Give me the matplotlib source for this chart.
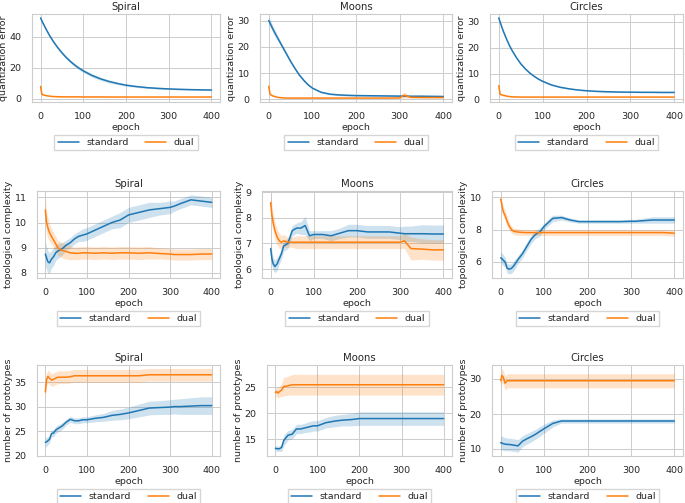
import numpy as np
import matplotlib
matplotlib.use('Agg')
import matplotlib.pyplot as plt
import seaborn as sns

sns.set_theme(style='whitegrid')
plt.rcParams['font.family'] = ['DejaVu Sans']

epochs = [0, 3, 6, 10, 15, 20, 25, 30, 40, 50, 60, 70, 80, 90, 100, 120, 140, 160, 180,
          200, 225, 250, 275, 300, 310, 325, 350, 375, 400]

# quantization error
qe_spiral_std = [52.0, 50.2, 48.5, 46.3, 43.7, 41.2, 39.0, 36.8, 33.0, 29.6, 26.6, 24.0, 21.7, 19.7, 18.0,
                 15.1, 12.9, 11.2, 9.9, 8.8, 7.9, 7.2, 6.75, 6.4, 6.3, 6.15, 5.95, 5.8, 5.7]
qe_spiral_std_sd = [0.6, 0.6, 0.6, 0.6, 0.7, 0.7, 0.7, 0.8, 0.8, 0.9, 0.9, 1.0, 1.0, 1.0, 1.1,
                    1.1, 1.0, 0.9, 0.8, 0.7, 0.6, 0.5, 0.5, 0.4, 0.4, 0.4, 0.4, 0.4, 0.4]
qe_spiral_dual = [8.0, 3.0, 2.6, 2.3, 2.0, 1.8, 1.6, 1.5, 1.4, 1.3, 1.3, 1.3, 1.3, 1.3, 1.25,
                  1.25, 1.25, 1.2, 1.2, 1.2, 1.2, 1.2, 1.2, 1.2, 1.2, 1.2, 1.2, 1.2, 1.2]
qe_spiral_dual_sd = [1.0, 0.5, 0.3, 0.2, 0.2, 0.1, 0.1, 0.1, 0.1, 0.1, 0.1, 0.1, 0.1, 0.1, 0.1,
                     0.1, 0.1, 0.1, 0.1, 0.1, 0.1, 0.1, 0.1, 0.1, 0.1, 0.1, 0.1, 0.1, 0.1]

qe_moons_std = [30.0, 29.0, 28.0, 26.6, 25.0, 23.5, 22.0, 20.5, 17.5, 14.5, 11.8, 9.3, 7.3, 5.6, 4.3,
                2.7, 2.0, 1.7, 1.55, 1.45, 1.4, 1.35, 1.3, 1.25, 1.25, 1.2, 1.2, 1.15, 1.1]
qe_moons_std_sd = [1.5, 1.4, 1.3, 1.2, 1.1, 1.0, 0.9, 0.8, 0.7, 0.6, 0.5, 0.5, 0.4, 0.4, 0.3,
                   0.3, 0.3, 0.3, 0.3, 0.3, 0.3, 0.3, 0.3, 0.3, 0.3, 0.3, 0.3, 0.3, 0.3]
qe_moons_dual = [5.0, 2.0, 1.6, 1.3, 1.0, 0.8, 0.7, 0.6, 0.5, 0.5, 0.5, 0.5, 0.5, 0.5, 0.5,
                 0.5, 0.5, 0.5, 0.5, 0.5, 0.5, 0.5, 0.5, 0.55, 1.6, 0.8, 0.7, 0.7, 0.7]
qe_moons_dual_sd = [2.0, 0.5, 0.3, 0.2, 0.2, 0.1, 0.1, 0.1, 0.1, 0.1, 0.1, 0.1, 0.1, 0.1, 0.1,
                    0.1, 0.1, 0.1, 0.1, 0.1, 0.1, 0.1, 0.1, 0.1, 1.2, 0.3, 0.2, 0.2, 0.2]

qe_circles_std = [31.5, 29.9, 28.4, 26.5, 24.4, 22.4, 20.6, 19.0, 16.2, 13.8, 11.9, 10.3, 9.0, 7.9, 7.0,
                  5.6, 4.7, 4.1, 3.65, 3.35, 3.1, 2.95, 2.85, 2.8, 2.8, 2.75, 2.75, 2.7, 2.7]
qe_circles_std_sd = [0.4, 0.4, 0.4, 0.4, 0.4, 0.4, 0.3, 0.3, 0.3, 0.3, 0.3, 0.3, 0.3, 0.3, 0.3,
                     0.3, 0.2, 0.2, 0.2, 0.2, 0.2, 0.2, 0.2, 0.2, 0.2, 0.2, 0.2, 0.2, 0.2]
qe_circles_dual = [5.3, 2.0, 1.8, 1.6, 1.4, 1.2, 1.1, 1.0, 0.95, 0.9, 0.9, 0.9, 0.9, 0.9, 0.9,
                   0.9, 0.9, 0.9, 0.9, 0.9, 0.9, 0.9, 0.9, 0.9, 0.9, 0.9, 0.9, 0.9, 0.9]
qe_circles_dual_sd = [0.6, 0.3, 0.2, 0.1, 0.1, 0.1, 0.1, 0.1, 0.1, 0.1, 0.1, 0.1, 0.1, 0.1, 0.1,
                      0.1, 0.1, 0.1, 0.1, 0.1, 0.1, 0.1, 0.1, 0.1, 0.1, 0.1, 0.1, 0.1, 0.1]

# topological complexity
tc_spiral_std = [8.75, 8.6, 8.45, 8.4, 8.55, 8.65, 8.8, 8.87, 8.95, 9.1, 9.2, 9.35, 9.45, 9.5, 9.55,
                 9.7, 9.85, 10.0, 10.1, 10.3, 10.4, 10.5, 10.55, 10.6, 10.65, 10.75, 10.9, 10.85, 10.8]
tc_spiral_std_sd = [0.5, 0.45, 0.45, 0.4, 0.35, 0.35, 0.3, 0.3, 0.25, 0.2, 0.2, 0.2, 0.2, 0.25, 0.25,
                    0.25, 0.25, 0.25, 0.3, 0.3, 0.3, 0.3, 0.25, 0.25, 0.2, 0.2, 0.2, 0.2, 0.2]
tc_spiral_dual = [10.5, 10.0, 9.8, 9.6, 9.45, 9.3, 9.15, 9.0, 8.9, 8.85, 8.8, 8.78, 8.78, 8.8, 8.8,
                  8.78, 8.8, 8.78, 8.8, 8.8, 8.78, 8.8, 8.77, 8.75, 8.73, 8.73, 8.73, 8.75, 8.75]
tc_spiral_dual_sd = [0.5, 0.45, 0.4, 0.35, 0.3, 0.3, 0.3, 0.3, 0.3, 0.3, 0.28, 0.25, 0.25, 0.25, 0.25,
                     0.25, 0.25, 0.25, 0.25, 0.25, 0.25, 0.25, 0.22, 0.22, 0.22, 0.22, 0.22, 0.22, 0.22]

tc_moons_std = [6.8, 6.4, 6.2, 6.1, 6.2, 6.4, 6.6, 6.9, 7.0, 7.5, 7.6, 7.6, 7.7, 7.3, 7.35,
                7.35, 7.3, 7.4, 7.5, 7.5, 7.45, 7.45, 7.45, 7.4, 7.38, 7.38, 7.38, 7.37, 7.37]
tc_moons_std_sd = [0.4, 0.3, 0.25, 0.25, 0.25, 0.2, 0.2, 0.2, 0.2, 0.2, 0.2, 0.25, 0.35, 0.2, 0.15,
                   0.15, 0.2, 0.2, 0.25, 0.25, 0.25, 0.25, 0.25, 0.25, 0.3, 0.3, 0.35, 0.35, 0.35]
tc_moons_dual = [8.6, 8.1, 7.8, 7.5, 7.25, 7.1, 7.05, 7.1, 7.05, 7.05, 7.05, 7.05, 7.05, 7.05, 7.05,
                 7.05, 7.05, 7.05, 7.05, 7.05, 7.05, 7.05, 7.05, 7.05, 7.1, 6.8, 6.78, 6.75, 6.75]
tc_moons_dual_sd = [0.4, 0.4, 0.35, 0.35, 0.3, 0.3, 0.25, 0.25, 0.2, 0.2, 0.25, 0.25, 0.25, 0.25, 0.25,
                    0.25, 0.25, 0.25, 0.25, 0.25, 0.25, 0.25, 0.25, 0.25, 0.3, 0.45, 0.4, 0.4, 0.4]

tc_circles_std = [6.25, 6.2, 6.1, 6.0, 5.6, 5.55, 5.6, 5.75, 6.15, 6.5, 6.95, 7.4, 7.7, 7.85, 8.2,
                  8.7, 8.75, 8.6, 8.5, 8.5, 8.5, 8.5, 8.5, 8.52, 8.52, 8.55, 8.6, 8.6, 8.6]
tc_circles_std_sd = [0.35, 0.35, 0.35, 0.3, 0.3, 0.3, 0.3, 0.3, 0.25, 0.25, 0.25, 0.25, 0.25, 0.25, 0.2,
                     0.2, 0.15, 0.12, 0.1, 0.1, 0.1, 0.1, 0.1, 0.12, 0.12, 0.15, 0.2, 0.2, 0.2]
tc_circles_dual = [9.9, 9.5, 9.1, 8.9, 8.5, 8.2, 8.0, 7.9, 7.85, 7.83, 7.82, 7.82, 7.82, 7.82, 7.82,
                   7.82, 7.82, 7.82, 7.82, 7.82, 7.82, 7.82, 7.82, 7.82, 7.82, 7.82, 7.82, 7.82, 7.78]
tc_circles_dual_sd = [0.2, 0.25, 0.3, 0.3, 0.3, 0.25, 0.22, 0.2, 0.2, 0.18, 0.18, 0.18, 0.18, 0.18, 0.18,
                      0.18, 0.18, 0.18, 0.18, 0.18, 0.18, 0.18, 0.18, 0.18, 0.18, 0.18, 0.18, 0.18, 0.18]

# number of prototypes
np_spiral_std = [22.7, 22.8, 23.0, 23.3, 24.5, 24.6, 25.2, 25.5, 26.0, 26.8, 27.4, 27.1, 27.1, 27.3, 27.3,
                 27.6, 27.8, 28.2, 28.4, 28.7, 29.2, 29.7, 29.8, 29.9, 30.0, 30.0, 30.1, 30.2, 30.2]
np_spiral_std_sd = [1.0, 0.9, 0.8, 0.7, 0.7, 0.7, 0.7, 0.7, 0.7, 0.6, 0.6, 0.6, 0.6, 0.6, 0.6,
                    0.7, 0.8, 1.0, 1.1, 1.2, 1.3, 1.4, 1.4, 1.5, 1.5, 1.6, 1.7, 1.8, 1.8]
np_spiral_dual = [33.0, 35.5, 36.2, 35.8, 35.4, 35.6, 35.8, 36.0, 36.0, 36.0, 36.1, 36.3, 36.3, 36.3, 36.3,
                  36.3, 36.3, 36.3, 36.3, 36.3, 36.3, 36.5, 36.5, 36.5, 36.5, 36.5, 36.5, 36.5, 36.5]
np_spiral_dual_sd = [1.0, 1.3, 1.3, 1.3, 1.3, 1.3, 1.3, 1.3, 1.3, 1.3, 1.3, 1.3, 1.3, 1.3, 1.3,
                     1.3, 1.3, 1.3, 1.3, 1.3, 1.3, 1.3, 1.3, 1.3, 1.3, 1.3, 1.3, 1.3, 1.3]

np_moons_std = [13.3, 13.2, 13.2, 13.2, 13.5, 14.8, 15.3, 15.8, 16.0, 17.0, 17.0, 17.2, 17.4, 17.6, 17.6,
                18.2, 18.5, 18.7, 18.8, 19.0, 19.0, 19.0, 19.0, 19.0, 19.0, 19.0, 19.0, 19.0, 19.0]
np_moons_std_sd = [0.5, 0.5, 0.5, 0.5, 0.8, 1.0, 1.0, 0.9, 0.9, 0.9, 0.9, 0.9, 1.0, 1.0, 1.0,
                   1.0, 1.1, 1.1, 1.2, 1.3, 1.3, 1.3, 1.3, 1.3, 1.3, 1.3, 1.3, 1.3, 1.3]
np_moons_dual = [24.0, 24.2, 23.9, 24.2, 24.5, 25.2, 25.2, 25.3, 25.5, 25.5, 25.5, 25.5, 25.5, 25.5, 25.5,
                 25.5, 25.5, 25.5, 25.5, 25.5, 25.5, 25.5, 25.5, 25.5, 25.5, 25.5, 25.5, 25.5, 25.5]
np_moons_dual_sd = [0.8, 0.9, 1.0, 1.0, 1.3, 1.8, 1.8, 1.8, 2.0, 2.0, 2.0, 2.0, 2.0, 2.0, 2.0,
                    2.0, 2.0, 2.0, 2.0, 2.0, 2.0, 2.0, 2.0, 2.0, 2.0, 2.0, 2.0, 2.0, 2.0]

np_circles_std = [11.8, 11.7, 11.5, 11.4, 11.3, 11.3, 11.2, 11.1, 10.9, 12.2, 12.9, 13.5, 14.2, 15.0, 15.8,
                  17.3, 18.0, 18.0, 18.0, 18.0, 18.0, 18.0, 18.0, 18.0, 18.0, 18.0, 18.0, 18.0, 18.0]
np_circles_std_sd = [2.0, 2.0, 1.9, 1.9, 1.8, 1.8, 1.8, 1.8, 1.8, 1.6, 1.5, 1.5, 1.4, 1.4, 1.3,
                     1.0, 0.6, 0.6, 0.6, 0.6, 0.6, 0.6, 0.6, 0.6, 0.6, 0.6, 0.6, 0.6, 0.6]
np_circles_dual = [29.5, 31.0, 30.5, 28.8, 29.5, 29.5, 29.5, 29.5, 29.5, 29.5, 29.5, 29.5, 29.5, 29.5, 29.5,
                   29.5, 29.5, 29.5, 29.5, 29.5, 29.5, 29.5, 29.5, 29.5, 29.5, 29.5, 29.5, 29.5, 29.5]
np_circles_dual_sd = [2.0, 2.0, 2.0, 2.0, 2.0, 2.0, 2.0, 2.0, 2.0, 2.0, 2.0, 2.0, 2.0, 2.0, 2.0,
                      2.0, 2.0, 2.0, 2.0, 2.0, 2.0, 2.0, 2.0, 2.0, 2.0, 2.0, 2.0, 2.0, 2.0]

titles = ['Spiral', 'Moons', 'Circles']
ylabels = ['quantization error', 'topological complexity', 'number of prototypes']

panels = [
    [(qe_spiral_std, qe_spiral_std_sd, qe_spiral_dual, qe_spiral_dual_sd, [0, 20, 40], (-2, 54.5)),
     (qe_moons_std, qe_moons_std_sd, qe_moons_dual, qe_moons_dual_sd, [0, 10, 20, 30], (-1, 32.5)),
     (qe_circles_std, qe_circles_std_sd, qe_circles_dual, qe_circles_dual_sd, [0, 10, 20, 30], (-1, 33))],
    [(tc_spiral_std, tc_spiral_std_sd, tc_spiral_dual, tc_spiral_dual_sd, [8, 9, 10, 11], (7.8, 11.25)),
     (tc_moons_std, tc_moons_std_sd, tc_moons_dual, tc_moons_dual_sd, [6, 7, 8, 9], (5.65, 9.05)),
     (tc_circles_std, tc_circles_std_sd, tc_circles_dual, tc_circles_dual_sd, [6, 8, 10], (5.0, 10.4))],
    [(np_spiral_std, np_spiral_std_sd, np_spiral_dual, np_spiral_dual_sd, [20, 25, 30, 35], (19.9, 38.5)),
     (np_moons_std, np_moons_std_sd, np_moons_dual, np_moons_dual_sd, [15, 20, 25], (11.8, 29.3)),
     (np_circles_std, np_circles_std_sd, np_circles_dual, np_circles_dual_sd, [10, 20, 30], (8, 34))],
]

W, H = 685, 503
# axes boxes in pixels: (left, right) per column, (top, bottom) per row
cols = [[(32, 220), (260, 452), (490, 683)],
        [(37, 220), (262, 452), (492, 683)],
        [(37, 220), (267, 452), (492, 683)]]
rows = [(14, 102), (191, 278), (365, 456)]

fig = plt.figure(figsize=(W / 100, H / 100), dpi=100)
blue = '#1f77b4'
orange = '#ff7f0e'
ep = np.array(epochs)
fs = 6.8

for r in range(3):
    for c in range(3):
        std, std_sd, dual, dual_sd, yticks, ylim = panels[r][c]
        l, rr = cols[r][c]
        t, b = rows[r]
        ax = fig.add_axes([l / W, 1 - b / H, (rr - l) / W, (b - t) / H])
        std = np.array(std); std_sd = np.array(std_sd)
        dual = np.array(dual); dual_sd = np.array(dual_sd)
        ax.fill_between(ep, std - std_sd, std + std_sd, color=blue, alpha=0.22, lw=0)
        ax.fill_between(ep, dual - dual_sd, dual + dual_sd, color=orange, alpha=0.22, lw=0)
        ax.plot(ep, std, color=blue, lw=1.1, label='standard')
        ax.plot(ep, dual, color=orange, lw=1.1, label='dual')
        ax.set_xlim(-20, 420)
        ax.set_ylim(*ylim)
        ax.set_xticks([0, 100, 200, 300, 400])
        ax.set_yticks(yticks)
        ax.tick_params(labelsize=fs, pad=1.5)
        ax.set_title(titles[c], fontsize=7.3, pad=3)
        ax.set_xlabel('epoch', fontsize=fs, labelpad=1)
        ax.set_ylabel(ylabels[r], fontsize=fs, labelpad=1)
        for s in ax.spines.values():
            s.set_linewidth(0.8)
        ax.grid(lw=0.7)
        ax.legend(loc='upper center', bbox_to_anchor=((l + rr) / 2 / W, 1 - (b + 28) / H),
                  bbox_transform=fig.transFigure, ncol=2, fontsize=fs, frameon=True,
                  fancybox=False, columnspacing=1.8, handlelength=2.2, borderpad=0.35)

fig.savefig('out.png', dpi=100)
